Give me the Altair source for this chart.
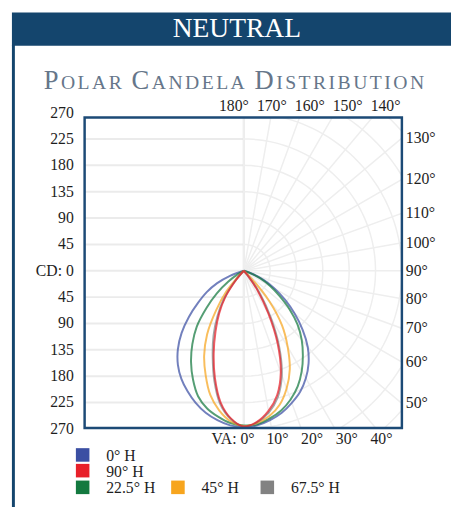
import math
import altair as alt
import pandas as pd

# ---------------- data ----------------
VA = [0, 5, 10, 15, 20, 25, 30, 35, 40, 45, 50, 55, 60, 65, 70, 75, 80, 85, 90]

H0_RIGHT = [267, 265, 259, 251, 240, 228, 212, 193, 170, 142, 113, 86, 61, 38, 15, 0, 0, 0, 0]
H0_LEFT = [267, 265, 259, 251, 240, 227, 213, 196, 175, 150, 122, 95, 73, 50, 25, 0, 0, 0, 0]
H225_RIGHT = [265, 263, 256, 247, 234, 218, 198, 176, 154, 130, 102, 74, 52, 32, 12, 0, 0, 0, 0]
H225_LEFT = [264, 261, 253, 243, 228, 205, 180, 153, 125, 90, 60, 32, 10, 0, 0, 0, 0, 0, 0]
H45_RIGHT = [266, 261, 252, 237, 214, 186, 150, 114, 68, 20, 0, 0, 0, 0, 0, 0, 0, 0, 0]
H45_LEFT = [265, 258, 242, 220, 190, 160, 125, 82, 46, 8, 0, 0, 0, 0, 0, 0, 0, 0, 0]
H675_RIGHT = [266, 260, 246, 224, 190, 143, 92, 50, 14, 0, 0, 0, 0, 0, 0, 0, 0, 0, 0]
H675_LEFT = [266, 254, 231, 194, 155, 122, 90, 60, 25, 0, 0, 0, 0, 0, 0, 0, 0, 0, 0]
H90_RIGHT = [266, 259, 243, 220, 185, 137, 84, 42, 10, 0, 0, 0, 0, 0, 0, 0, 0, 0, 0]
H90_LEFT = [266, 253, 228, 190, 150, 114, 84, 55, 20, 0, 0, 0, 0, 0, 0, 0, 0, 0, 0]

SERIES = ["0° H", "90° H", "22.5° H", "45° H", "67.5° H"]
COLORS = ["#3b4fa3", "#e8202a", "#13793f", "#f7a51e", "#828282"]

CD_LEVELS = [270, 225, 180, 135, 90, 45, 0, -45, -90, -135, -180, -225, -270]
RIGHT_ANGLES = [130, 120, 110, 100, 90, 80, 70, 60, 50]
TOP_ANGLES = [180, 170, 160, 150, 140]
BOTTOM_ANGLES = [10, 20, 30, 40]

# ---------------- geometry ----------------
PX = 26.83 / 45.0          # pixels per candela
W, H = 323, 316
XMIN = -162 / PX
XMAX = XMIN + W / PX
YMAX = 156 / PX
YMIN = YMAX - H / PX
XS = alt.Scale(domain=[XMIN, XMAX], nice=False, zero=False)
YS = alt.Scale(domain=[YMIN, YMAX], nice=False, zero=False)
FONT = "Liberation Serif"
INK = "#1e1e1e"
NAVY = "#14456d"
GRID = "#eeeeee"


def dx(px):
    return XMIN + px / PX


def dy(py):
    return YMAX - py / PX


def X(f):
    return alt.X(f, scale=XS, axis=None)


def Y(f):
    return alt.Y(f, scale=YS, axis=None)


dummy = pd.DataFrame({"d": [0]})

# ---------------- grid ----------------
hrows = [dict(x1=XMIN, x2=0.0, y=float(v)) for v in range(-225, 226, 45)]
hgrid = alt.Chart(pd.DataFrame(hrows)).mark_rule(color="#ebebeb", strokeWidth=2).encode(
    x=X("x1:Q"), x2="x2:Q", y=Y("y:Q"))
vgrid = alt.Chart(pd.DataFrame({"x": [0.0], "y1": [YMIN], "y2": [YMAX]})).mark_rule(
    color="#e3e3e3", strokeWidth=2).encode(x=X("x:Q"), y=Y("y1:Q"), y2="y2:Q")

prow = []
for a in range(0, 181, 10):
    r = math.radians(a)
    prow.append(dict(gid=f"r{a}", t=0, x=0.0, y=0.0))
    prow.append(dict(gid=f"r{a}", t=1, x=420 * math.sin(r), y=-420 * math.cos(r)))
for k in range(1, 9):
    for a in range(0, 181, 2):
        r = math.radians(a)
        prow.append(dict(gid=f"c{k}", t=a, x=45 * k * math.sin(r), y=-45 * k * math.cos(r)))
pgrid = alt.Chart(pd.DataFrame(prow)).mark_line(clip=True, color=GRID, strokeWidth=1.5).encode(
    x=X("x:Q"), y=Y("y:Q"), detail="gid:N", order="t:Q")

# ---------------- curves ----------------
curve_sets = {
    "0° H": (H0_RIGHT, H0_LEFT),
    "22.5° H": (H225_RIGHT, H225_LEFT),
    "45° H": (H45_RIGHT, H45_LEFT),
    "67.5° H": (H675_RIGHT, H675_LEFT),
    "90° H": (H90_RIGHT, H90_LEFT),
}


def trimmed(vals):
    out = []
    for a, c in zip(VA, vals):
        out.append((a, c))
        if c == 0:
            break
    return out


curve_layers = []
for name in ["0° H", "22.5° H", "45° H", "67.5° H", "90° H"]:
    right, left = curve_sets[name]
    rows = []
    for a, c in trimmed(left):
        rows.append(dict(sgn=-1, va=a, cd=c, t=-a))
    for a, c in trimmed(right):
        if a > 0:
            rows.append(dict(sgn=1, va=a, cd=c, t=a))
    col = COLORS[SERIES.index(name)]
    curve_layers.append(
        alt.Chart(pd.DataFrame(rows)).transform_calculate(
            x="datum.sgn * datum.cd * sin(datum.va * PI / 180)",
            y="-datum.cd * cos(datum.va * PI / 180)",
        ).mark_line(color=col, strokeWidth=2, opacity=0.72, interpolate="catmull-rom").encode(
            x=X("x:Q"), y=Y("y:Q"), order="t:Q")
    )

# ---------------- frame & decorations ----------------
frame = alt.Chart(dummy).mark_rect(fillOpacity=0, stroke="#1c4a76", strokeWidth=2.5).encode(
    x=alt.value(0), x2=alt.value(W), y=alt.value(0), y2=alt.value(H))
banner = alt.Chart(dummy).mark_rect(color=NAVY).encode(
    x=alt.value(-74), x2=alt.value(380), y=alt.value(-107), y2=alt.value(-73))
sideline = alt.Chart(dummy).mark_rect(color=NAVY).encode(
    x=alt.value(-74), x2=alt.value(-71), y=alt.value(-74), y2=alt.value(400))
neutral = alt.Chart(dummy).mark_text(
    text="NEUTRAL", font=FONT, fontSize=28, color="white", align="center", baseline="alphabetic"
).encode(x=alt.value(155), y=alt.value(-82))

# small-caps title built letter by letter
TITLE = "POLAR CANDELA DISTRIBUTION"
WID = {'P': .556, 'O': .722, 'L': .611, 'A': .722, 'R': .667, 'C': .667, 'N': .722, 'D': .722,
       'E': .611, 'I': .333, 'S': .556, 'T': .611, 'B': .667, 'U': .722, ' ': .25}
BIG, SMALL, TRACK = 27, 20, 2.5
sizes = []
prev = " "
for ch in TITLE:
    sizes.append(BIG if (prev == " " and ch != " ") else SMALL)
    prev = ch
total = sum(WID[c] * s for c, s in zip(TITLE, sizes)) + TRACK * (len(TITLE) - 1)
px0 = 238 - 86 - total / 2
trows = []
cur = px0
for ch, s in zip(TITLE, sizes):
    if ch != " ":
        trows.append(dict(ch=ch, fs=s, x=dx(cur), y=dy(86 - 115)))
    cur += WID[ch] * s + TRACK
title = alt.Chart(pd.DataFrame(trows)).mark_text(
    font=FONT, color="#66768a", align="left", baseline="alphabetic").encode(
    x=X("x:Q"), y=Y("y:Q"), text="ch:N", size=alt.Size("fs:Q", scale=None))

# ---------------- axis labels ----------------
left_df = pd.DataFrame({"y": CD_LEVELS,
                        "lab": ["CD: 0" if v == 0 else str(abs(v)) for v in CD_LEVELS]})
left_labels = alt.Chart(left_df).mark_text(
    font=FONT, fontSize=16, color=INK, align="right", baseline="middle").encode(
    x=alt.value(-11), y=Y("y:Q"), text="lab:N")

right_df = pd.DataFrame({"a": RIGHT_ANGLES, "lab": [f"{a}°" for a in RIGHT_ANGLES]})
right_labels = alt.Chart(right_df).transform_calculate(
    y=f"-{XMAX} * cos(datum.a * PI / 180) / sin(datum.a * PI / 180)"
).mark_text(font=FONT, fontSize=16, color=INK, align="left", baseline="middle").encode(
    x=alt.value(327), y=Y("y:Q"), text="lab:N")

top_df = pd.DataFrame({"a": TOP_ANGLES, "lab": [f"{a}°" for a in TOP_ANGLES]})
top_labels = alt.Chart(top_df).transform_calculate(
    x=f"{XMIN} + (152 + 3.86 * (180 - datum.a)) / {PX}"
).mark_text(font=FONT, fontSize=16, color=INK, align="center", baseline="middle").encode(
    x=X("x:Q"), y=alt.value(-12), text="lab:N")

bot_df = pd.DataFrame({"a": BOTTOM_ANGLES, "lab": [f"{a}°" for a in BOTTOM_ANGLES]})
bot_labels = alt.Chart(bot_df).transform_calculate(
    x=f"{XMIN} + (161 + 3.53 * datum.a) / {PX}"
).mark_text(font=FONT, fontSize=16, color=INK, align="center", baseline="middle").encode(
    x=X("x:Q"), y=alt.value(327), text="lab:N")
va0 = alt.Chart(dummy).mark_text(
    text="VA: 0°", font=FONT, fontSize=16, color=INK, align="right", baseline="middle"
).encode(x=alt.value(173), y=alt.value(327))

# ---------------- legend ----------------
LEG_POS = [(-2, 343.5), (-2, 359.5), (-2, 376.5), (95, 376.5), (186, 376.5)]
leg_df = pd.DataFrame({
    "series": SERIES,
    "x": [dx(p[0]) for p in LEG_POS],
    "tx": [dx(p[0] + 24) for p in LEG_POS],
    "y": [dy(p[1]) for p in LEG_POS],
})
leg_sq = alt.Chart(leg_df).mark_square(size=190, opacity=1).encode(
    x=X("x:Q"), y=Y("y:Q"),
    color=alt.Color("series:N", scale=alt.Scale(domain=SERIES, range=COLORS), legend=None))
leg_tx = alt.Chart(leg_df).mark_text(
    font=FONT, fontSize=16, color=INK, align="left", baseline="middle", dy=1).encode(
    x=X("tx:Q"), y=Y("y:Q"), text="series:N")

chart = alt.layer(
    banner, sideline, neutral, title,
    hgrid, vgrid, pgrid, *curve_layers, frame,
    left_labels, right_labels, top_labels, bot_labels, va0,
    leg_sq, leg_tx,
).properties(
    width=W, height=H,
    autosize=alt.AutoSizeParams(type="none"),
    padding={"left": 78, "top": 107, "right": 50, "bottom": 76},
    background="white",
).configure_view(stroke=None)

chart.save("out.html", embed_options={"renderer": "svg", "actions": False})
